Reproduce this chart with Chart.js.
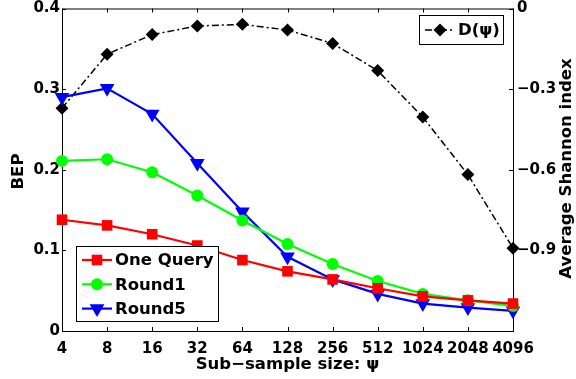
<!DOCTYPE html>
<html>
<head>
<meta charset="utf-8">
<script src="https://cdn.jsdelivr.net/npm/chart.js@4/dist/chart.umd.min.js"></script>
<style>
  html, body { margin: 0; padding: 0; background: #fff; }
  #wrap { width: 576px; height: 379px; }
</style>
</head>
<body>
<div id="wrap"><canvas id="c" width="576" height="379"></canvas></div>
<script>
// sub-sample sizes (x axis)
const sizes = ['4', '8', '16', '32', '64', '128', '256', '512', '1024', '2048', '4096'];

// BEP (left axis)
const oneQuery = [0.138, 0.131, 0.120, 0.106, 0.088, 0.074, 0.064, 0.053, 0.043, 0.038, 0.034];
const round1   = [0.211, 0.213, 0.197, 0.168, 0.137, 0.108, 0.083, 0.062, 0.046, 0.038, 0.031];
const round5   = [0.290, 0.301, 0.269, 0.208, 0.148, 0.092, 0.064, 0.046, 0.034, 0.029, 0.025];

// Average Shannon index D(psi) (right axis)
const diversity = [-0.371, -0.170, -0.097, -0.065, -0.059, -0.080, -0.130, -0.231, -0.404, -0.618, -0.892];

const bepTicks = [0, 0.1, 0.2, 0.3, 0.4];
const shannonTicks = [0, -0.3, -0.6, -0.9, -1.2];

Chart.defaults.font.family = 'DejaVu Sans';
Chart.defaults.font.weight = 'bold';
Chart.defaults.font.size = 15;
Chart.defaults.color = '#000';

const TITLE_FONT = 'bold 16.5px "DejaVu Sans"';
const LEGEND_FONT = 'bold 16.5px "DejaVu Sans"';

// box + inward tick marks, drawn under the data like matlab does
const frame = {
    id: 'frame',
    beforeDatasetsDraw(chart) {
        const { ctx, chartArea: a, scales } = chart;
        ctx.save();
        ctx.strokeStyle = '#000';
        ctx.lineWidth = 1;
        ctx.strokeRect(a.left + 0.5, a.top + 0.5, a.right - a.left, a.bottom - a.top);
        ctx.beginPath();
        sizes.forEach((s, i) => {
            const x = Math.round(scales.x.getPixelForValue(i)) + 0.5;
            ctx.moveTo(x, a.bottom); ctx.lineTo(x, a.bottom - 4);
            ctx.moveTo(x, a.top); ctx.lineTo(x, a.top + 4);
        });
        bepTicks.forEach(v => {
            const y = Math.round(scales.y.getPixelForValue(v)) + 0.5;
            ctx.moveTo(a.left, y); ctx.lineTo(a.left + 4, y);
        });
        shannonTicks.forEach(v => {
            const y = Math.round(scales.y1.getPixelForValue(v)) + 0.5;
            ctx.moveTo(a.right, y); ctx.lineTo(a.right - 4, y);
        });
        ctx.stroke();
        ctx.restore();
    },
    afterDraw(chart) {
        const { ctx, chartArea: a } = chart;
        ctx.save();
        ctx.fillStyle = '#000';
        ctx.font = TITLE_FONT;
        ctx.textAlign = 'center';
        ctx.textBaseline = 'middle';

        // axis titles
        ctx.fillText('Sub\u2212sample size: \u03c8', (a.left + a.right) / 2, 365);
        ctx.save();
        ctx.translate(18.5, 171.5);
        ctx.rotate(-Math.PI / 2);
        ctx.fillText('BEP', 0, 0);
        ctx.restore();
        ctx.save();
        ctx.translate(566.5, 168.5);
        ctx.rotate(-Math.PI / 2);
        ctx.fillText('Average Shannon index', 0, 0);
        ctx.restore();

        // legends
        const ds = chart.data.datasets;
        drawLegend(ctx, 76, 246, 142, 75, [ds[0], ds[1], ds[2]], 24.3);
        drawLegend(ctx, 419, 15, 84, 29, [ds[3]], 0);
        ctx.restore();
    }
};

function drawLegend(ctx, x, y, w, h, items, rowH) {
    ctx.fillStyle = '#fff';
    ctx.fillRect(x, y, w, h);
    ctx.strokeStyle = '#000';
    ctx.lineWidth = 1;
    ctx.setLineDash([]);
    ctx.strokeRect(x + 0.5, y + 0.5, w, h);
    const first = items.length > 1 ? y + 14 : y + h / 2 + 0.5;
    items.forEach((d, i) => {
        const cy = first + i * rowH;
        ctx.strokeStyle = d.borderColor;
        ctx.lineWidth = d.borderWidth;
        ctx.setLineDash(d.borderDash || []);
        ctx.beginPath();
        ctx.moveTo(x + 6, cy);
        ctx.lineTo(x + 36, cy);
        ctx.stroke();
        ctx.setLineDash([]);
        ctx.fillStyle = d.pointBackgroundColor;
        Chart.helpers.drawPoint(ctx, {
            pointStyle: d.pointStyle,
            radius: d.pointRadius,
            rotation: d.pointRotation || 0,
            borderWidth: 0
        }, x + 21, cy);
        ctx.fillStyle = '#000';
        ctx.font = LEGEND_FONT;
        ctx.textAlign = 'left';
        ctx.textBaseline = 'middle';
        ctx.fillText(d.label, x + 39, cy + 1);
    });
}

function series(label, data, color, style, radius, extra) {
    return Object.assign({
        label: label,
        data: data,
        yAxisID: 'y',
        borderColor: color,
        backgroundColor: color,
        pointBackgroundColor: color,
        pointBorderColor: color,
        borderWidth: 2.2,
        pointStyle: style,
        pointRadius: radius,
        pointBorderWidth: 0,
        pointHoverRadius: radius,
        tension: 0,
        clip: false
    }, extra || {});
}

function noPad(s) {
    s.paddingTop = 0;
    s.paddingBottom = 0;
    s.paddingLeft = 0;
    s.paddingRight = 0;
}

new Chart(document.getElementById('c'), {
    type: 'line',
    data: {
        labels: sizes,
        datasets: [
            series('One Query', oneQuery, '#ff0000', 'rect', 7.5),
            series('Round1', round1, '#00ff00', 'circle', 6),
            series('Round5', round5, '#0000ff', 'triangle', 8.5, { pointRotation: 180 }),
            series('D(\u03c8)', diversity, '#000000', 'rectRot', 6.5, {
                yAxisID: 'y1',
                borderWidth: 1.5,
                borderDash: [7, 3, 2, 3]
            })
        ]
    },
    options: {
        responsive: false,
        devicePixelRatio: 1,
        animation: false,
        events: [],
        layout: { padding: { top: 7, left: 0, right: 0, bottom: 0 } },
        plugins: {
            legend: { display: false },
            tooltip: { enabled: false }
        },
        scales: {
            x: {
                type: 'category',
                offset: false,
                grid: { display: false, drawTicks: false },
                border: { display: false },
                ticks: { autoSkip: false, maxRotation: 0, padding: 9 },
                afterFit: s => { noPad(s); s.height = 48; }
            },
            y: {
                position: 'left',
                min: 0,
                max: 0.4,
                afterBuildTicks: s => { s.ticks = bepTicks.map(v => ({ value: v })); },
                grid: { display: false, drawTicks: false },
                border: { display: false },
                ticks: { padding: 2 },
                afterFit: s => { noPad(s); s.width = 62; }
            },
            y1: {
                position: 'right',
                min: -1.2,
                max: 0,
                afterBuildTicks: s => { s.ticks = shannonTicks.map(v => ({ value: v })); },
                grid: { display: false, drawTicks: false },
                border: { display: false },
                ticks: {
                    padding: 4,
                    callback: v => {
                        if (Math.abs(v + 1.2) < 1e-9) return '';
                        if (v === 0) return '0';
                        return '\u2212' + Math.abs(v).toFixed(1);
                    }
                },
                afterFit: s => { noPad(s); s.width = 63; }
            }
        }
    },
    plugins: [frame]
});
</script>
</body>
</html>
